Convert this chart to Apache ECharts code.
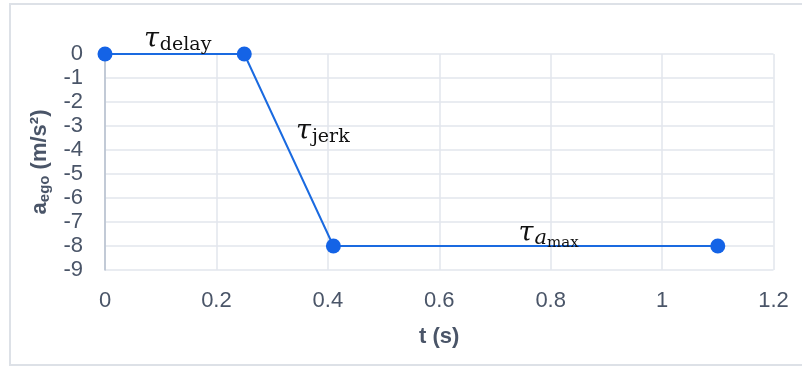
<!DOCTYPE html>
<html>
<head>
<meta charset="utf-8">
<script src="https://cdn.jsdelivr.net/npm/echarts@6/dist/echarts.min.js"></script>
<style>
  html, body { margin: 0; padding: 0; background: #fff; }
  #chart { width: 802px; height: 367px; }
</style>
</head>
<body>
<div id="chart"></div>
<script>
// Ego-vehicle deceleration profile: delay, jerk ramp, then constant max braking
const timeValues = [0, 0.25, 0.41, 1.1];
const accelValues = [0, 0, -8, -8];
const xTicks = [0, 0.2, 0.4, 0.6, 0.8, 1, 1.2];
const yTicks = [0, -1, -2, -3, -4, -5, -6, -7, -8, -9];
// Phase labels, one per segment between consecutive points
const phaseLabels = ['{t|τ}{s|delay}', '{t|τ}{s|jerk}', '{t|τ}{a|a}{m|max}'];

const chart = echarts.init(document.getElementById('chart'), null, { renderer: 'canvas' });

const points = timeValues.map((t, i) => [t, accelValues[i]]);
const labelOffsets = [[3, -14], [34, -18], [23, -12]];
const segmentMarks = phaseLabels.map((txt, i) => ({
  coord: [(timeValues[i] + timeValues[i + 1]) / 2, (accelValues[i] + accelValues[i + 1]) / 2],
  value: txt,
  label: { offset: labelOffsets[i] }
}));

const textColor = '#4a5568';
const gridColor = '#e2e6ec';
const sansFont = 'Liberation Sans, Arial, sans-serif';
const serifFont = 'DejaVu Serif, Liberation Serif, serif';

chart.setOption({
  animation: false,
  backgroundColor: '#fff',
  graphic: [{
    type: 'rect',
    shape: { x: 10, y: 4, width: 800, height: 361 },
    style: { fill: 'none', stroke: '#dde1e7', lineWidth: 2 },
    silent: true, z: -1
  }],
  grid: { left: 105, right: 28.5, top: 54, bottom: 97 },
  xAxis: {
    type: 'value',
    min: xTicks[0], max: xTicks[xTicks.length - 1], interval: 0.2,
    name: 't (s)', nameLocation: 'middle', nameGap: 56,
    nameTextStyle: { color: textColor, fontSize: 22, fontWeight: 'bold', fontFamily: sansFont },
    axisLine: { show: false },
    axisTick: { show: false },
    axisLabel: {
      color: textColor, fontSize: 22, fontFamily: sansFont, margin: 20,
      formatter: v => String(Math.round(v * 10) / 10)
    },
    splitLine: { show: true, lineStyle: { color: gridColor, width: 1.5 } }
  },
  yAxis: {
    type: 'value',
    min: yTicks[yTicks.length - 1], max: yTicks[0], interval: 1,
    name: '{b|a}{sub|ego}{b| (m/s²)}', nameLocation: 'middle', nameGap: 52,
    nameTextStyle: {
      color: textColor, fontFamily: sansFont,
      rich: {
        b: { fontSize: 22, fontWeight: 'bold', color: textColor, fontFamily: sansFont },
        sub: { fontSize: 15, fontWeight: 'bold', color: textColor, fontFamily: sansFont, padding: [10, 0, 0, 0] }
      }
    },
    axisLine: { show: true, onZero: false, lineStyle: { color: '#b4bfcd', width: 1.5 } },
    axisTick: { show: false },
    axisLabel: { color: textColor, fontSize: 22, fontFamily: sansFont, margin: 22 },
    splitLine: { show: true, lineStyle: { color: gridColor, width: 1.5 } }
  },
  series: [{
    type: 'line',
    data: points,
    symbol: 'circle',
    symbolSize: 15,
    itemStyle: { color: '#1463e6' },
    lineStyle: { color: '#1a6ae0', width: 2 },
    z: 3,
    markPoint: {
      symbol: 'circle', symbolSize: 0,
      data: segmentMarks,
      label: {
        show: true, position: 'inside',
        formatter: p => p.value,
        rich: {
          t: { fontSize: 27, fontStyle: 'italic', fontFamily: serifFont, color: '#111' },
          s: { fontSize: 19, fontFamily: serifFont, color: '#111', padding: [11, 0, 0, 1] },
          a: { fontSize: 21, fontStyle: 'italic', fontFamily: serifFont, color: '#111', padding: [9, 0, 0, 1] },
          m: { fontSize: 15, fontFamily: serifFont, color: '#111', padding: [18, 0, 0, 0] }
        }
      }
    }
  }]
});
</script>
</body>
</html>
